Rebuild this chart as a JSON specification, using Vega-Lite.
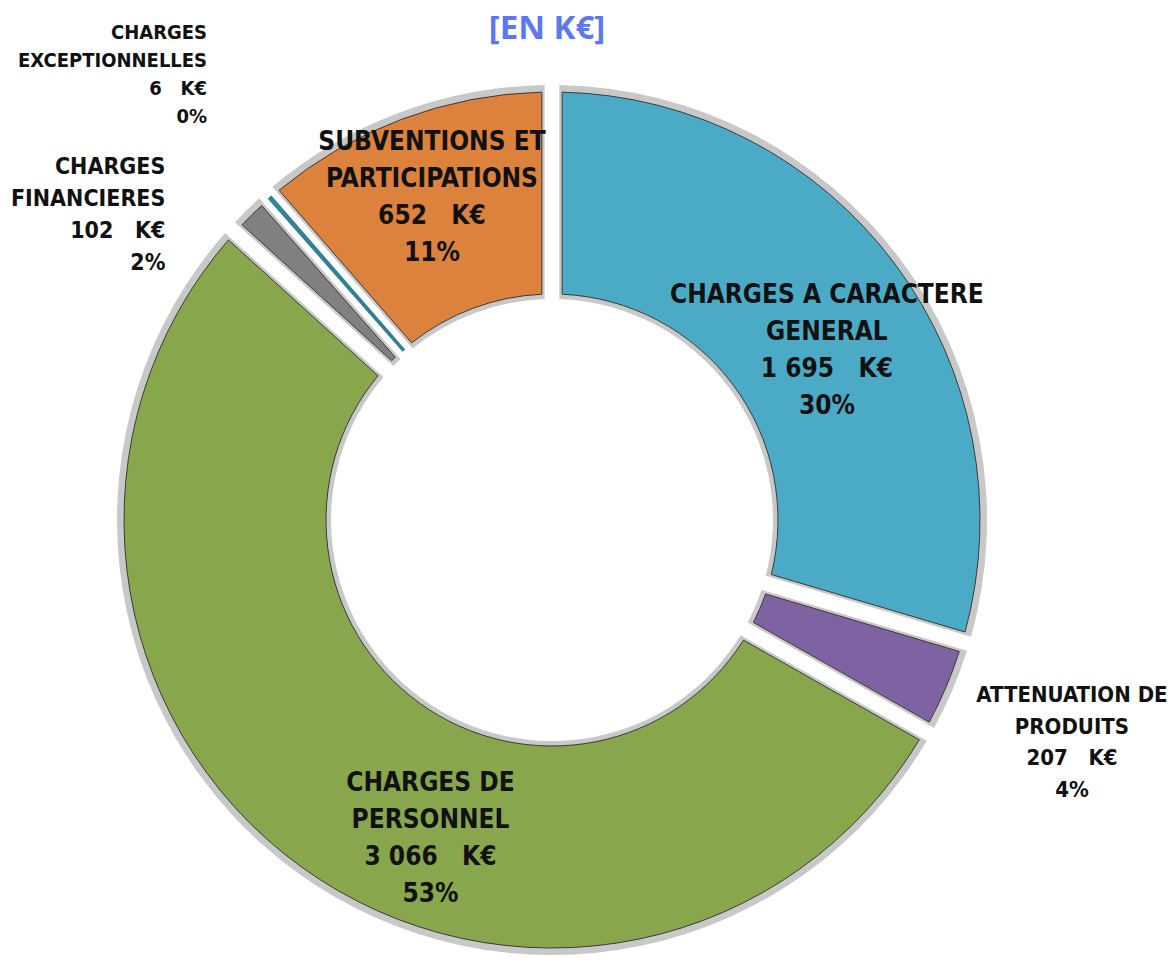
{
  "$schema": "https://vega.github.io/schema/vega-lite/v6.json",
  "autosize": "none",
  "width": 1104,
  "height": 960,
  "padding": {"left": 0, "top": 40, "right": 69, "bottom": 0},
  "background": "white",
  "title": {
    "text": "[EN K€]",
    "color": "#5B78F2",
    "font": "Open Sans",
    "fontSize": 33,
    "fontWeight": "bold",
    "anchor": "middle",
    "baseline": "alphabetic",
    "offset": 2,
    "dx": -5,
    "dy": 148
  },
  "config": {"view": {"stroke": null}},
  "data": {
    "values": [
      {"i": 1, "cat": "CHARGES A CARACTERE GENERAL", "value": 1695, "label": "CHARGES A CARACTERE\nGENERAL\n1 695\u00a0\u00a0\u00a0K€\n30%"},
      {"i": 2, "cat": "ATTENUATION DE PRODUITS", "value": 207, "label": "ATTENUATION DE\nPRODUITS\n207\u00a0\u00a0\u00a0K€\n4%"},
      {"i": 3, "cat": "CHARGES DE PERSONNEL", "value": 3066, "label": "CHARGES DE\nPERSONNEL\n3 066\u00a0\u00a0\u00a0K€\n53%"},
      {"i": 4, "cat": "CHARGES FINANCIERES", "value": 102, "label": "CHARGES\nFINANCIERES\n102\u00a0\u00a0\u00a0K€\n2%"},
      {"i": 5, "cat": "CHARGES EXCEPTIONNELLES", "value": 6, "label": "CHARGES\nEXCEPTIONNELLES\n6\u00a0\u00a0\u00a0K€\n0%"},
      {"i": 6, "cat": "SUBVENTIONS ET PARTICIPATIONS", "value": 652, "label": "SUBVENTIONS ET\nPARTICIPATIONS\n652\u00a0\u00a0\u00a0K€\n11%"}
    ]
  },
  "encoding": {
    "theta": {"field": "value", "type": "quantitative", "stack": true},
    "order": {"field": "i", "type": "quantitative"}
  },
  "layer": [
    {
      "mark": {"type": "arc", "outerRadius": 435, "innerRadius": 221, "padAngle": 0.03, "color": "#9a9a9a", "opacity": 0.55},
      "encoding": {}
    },
    {
      "mark": {"type": "arc", "outerRadius": 428, "innerRadius": 226, "padAngle": 0.042, "stroke": "#3a3a3a", "strokeWidth": 1},
      "encoding": {
        "color": {
          "field": "cat", "type": "nominal", "legend": null,
          "scale": {
            "domain": ["CHARGES A CARACTERE GENERAL", "ATTENUATION DE PRODUITS", "CHARGES DE PERSONNEL", "CHARGES FINANCIERES", "CHARGES EXCEPTIONNELLES", "SUBVENTIONS ET PARTICIPATIONS"],
            "range": ["#4BABC6", "#7F62A1", "#88A64C", "#808080", "#3F8FA6", "#DC823C"]
          }
        }
      }
    },
    {
      "mark": {"type": "arc", "outerRadius": 428, "innerRadius": 226, "stroke": "#2f7f96", "strokeWidth": 2},
      "encoding": {
        "color": {"value": "#3F8FA6"},
        "opacity": {"condition": {"test": "datum.i == 5", "value": 1}, "value": 0}
      }
    },
    {
      "mark": {"type": "text", "radius": 343, "dy": -20, "align": "center", "baseline": "middle", "lineBreak": "\n", "font": "DejaVu Sans Condensed", "fontWeight": "bold", "fontSize": 26, "lineHeight": 37, "color": "#111"},
      "encoding": {"text": {"condition": {"test": "datum.i == 1", "field": "label"}, "value": ""}}
    },
    {
      "mark": {"type": "text", "radius": 343, "dy": -57, "align": "center", "baseline": "middle", "lineBreak": "\n", "font": "DejaVu Sans Condensed", "fontWeight": "bold", "fontSize": 26, "lineHeight": 37, "color": "#111"},
      "encoding": {"text": {"condition": {"test": "datum.i == 6", "field": "label"}, "value": ""}}
    },
    {
      "mark": {"type": "text", "radius": 325, "dx": 69, "align": "center", "baseline": "middle", "lineBreak": "\n", "font": "DejaVu Sans Condensed", "fontWeight": "bold", "fontSize": 26, "lineHeight": 37, "color": "#111"},
      "encoding": {"text": {"condition": {"test": "datum.i == 3", "field": "label"}, "value": ""}}
    },
    {
      "mark": {"type": "text", "radius": 565, "dy": -46, "align": "center", "baseline": "middle", "lineBreak": "\n", "font": "DejaVu Sans Condensed", "fontWeight": "bold", "fontSize": 22, "lineHeight": 31.5, "color": "#111"},
      "encoding": {"text": {"condition": {"test": "datum.i == 2", "field": "label"}, "value": ""}}
    },
    {
      "mark": {"type": "text", "radius": 551, "dy": 40, "align": "right", "baseline": "middle", "lineBreak": "\n", "font": "DejaVu Sans Condensed", "fontWeight": "bold", "fontSize": 23, "lineHeight": 32, "color": "#111"},
      "encoding": {"text": {"condition": {"test": "datum.i == 4", "field": "label"}, "value": ""}}
    },
    {
      "mark": {"type": "text", "radius": 524, "dy": -93, "align": "right", "baseline": "middle", "lineBreak": "\n", "font": "DejaVu Sans Condensed", "fontWeight": "bold", "fontSize": 20, "lineHeight": 28, "color": "#111"},
      "encoding": {"text": {"condition": {"test": "datum.i == 5", "field": "label"}, "value": ""}}
    }
  ]
}
